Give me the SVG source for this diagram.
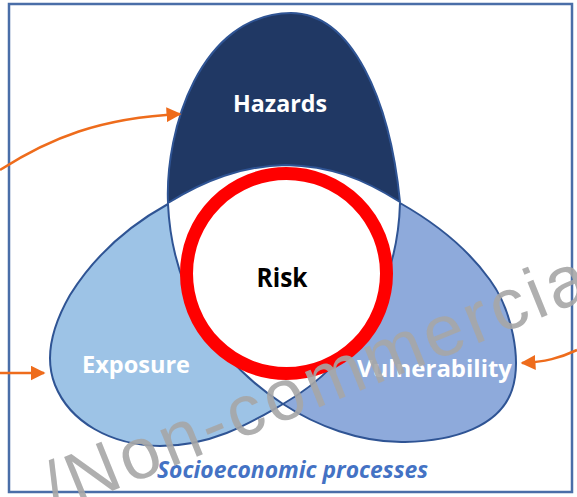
<svg xmlns="http://www.w3.org/2000/svg" width="577" height="497" viewBox="0 0 577 497">
<defs>
<style>
.lobe{stroke:#2f5494;stroke-width:2;stroke-linejoin:round}
.lbl{font-family:"Open Sans","Liberation Sans",sans-serif;font-weight:bold;fill:#ffffff;font-size:23px}
.arrow{fill:none;stroke:#ee6c1c;stroke-width:2.5}
</style>
<marker id="ah" viewBox="0 0 10 10" refX="9" refY="5" markerWidth="6" markerHeight="6" markerUnits="strokeWidth" orient="auto">
<path d="M0,0 L10,5 L0,10 Z" fill="#ee6c1c"/>
</marker>
</defs>
<rect x="0" y="0" width="577" height="497" fill="#ffffff"/>
<rect id="frame" x="9" y="4" width="563" height="488" fill="none" stroke="#4a6ea8" stroke-width="2.5"/>
<g id="exposure">
<path class="lobe" fill="#9dc3e6" d="M168,204 C172,290 215,360 283,404 C255,420 215,446 160,446 C110,445 70,422 55,385 C45,360 50,330 70,295 C95,255 130,225 168,204 Z"/>
<text class="lbl" x="82" y="373" textLength="108" lengthAdjust="spacingAndGlyphs">Exposure</text>
</g>
<g id="vulnerability">
<path class="lobe" fill="#8eaadb" d="M400,203 C398,280 360,360 283,404 C315,425 360,443 405,442 C455,441 500,426 512,390 C522,360 512,310 490,280 C465,245 430,220 400,203 Z"/>
<text class="lbl" x="357" y="377" textLength="155" lengthAdjust="spacingAndGlyphs">Vulnerability</text>
</g>
<g id="hazards">
<path class="lobe" fill="#203864" d="M168,203 C165,130 200,14 291,13 C352,13 390,100 400,202 C362,178 330,166 286,165 C242,166 205,180 168,203 Z"/>
<text class="lbl" x="233" y="112" textLength="94" lengthAdjust="spacingAndGlyphs">Hazards</text>
</g>
<g id="risk">
<circle cx="286.5" cy="273.5" r="100" fill="#ffffff" stroke="#ff0000" stroke-width="13"/>
<text x="282" y="287" text-anchor="middle" font-family="Open Sans, Liberation Sans, sans-serif" font-weight="bold" font-size="27" fill="#000000" textLength="51" lengthAdjust="spacingAndGlyphs">Risk</text>
</g>
<g id="connectors">
<path class="arrow" marker-end="url(#ah)" d="M0,170 C50,138 100,118 180,114"/>
<path class="arrow" marker-end="url(#ah)" d="M0,373 L44,373"/>
<path class="arrow" marker-end="url(#ah)" d="M577,350 C560,358 545,362 522,363"/>
</g>
<text x="157" y="478" font-family="Open Sans, Liberation Sans, sans-serif" font-weight="bold" font-style="italic" font-size="24" fill="#4472c4" textLength="271" lengthAdjust="spacingAndGlyphs">Socioeconomic processes</text>
<text transform="translate(55,514) rotate(-22)" font-family="Liberation Sans, Arial, sans-serif" font-size="72" letter-spacing="4" fill="#a6a6a6" fill-opacity="0.9">/Non-commercial</text>
</svg>
